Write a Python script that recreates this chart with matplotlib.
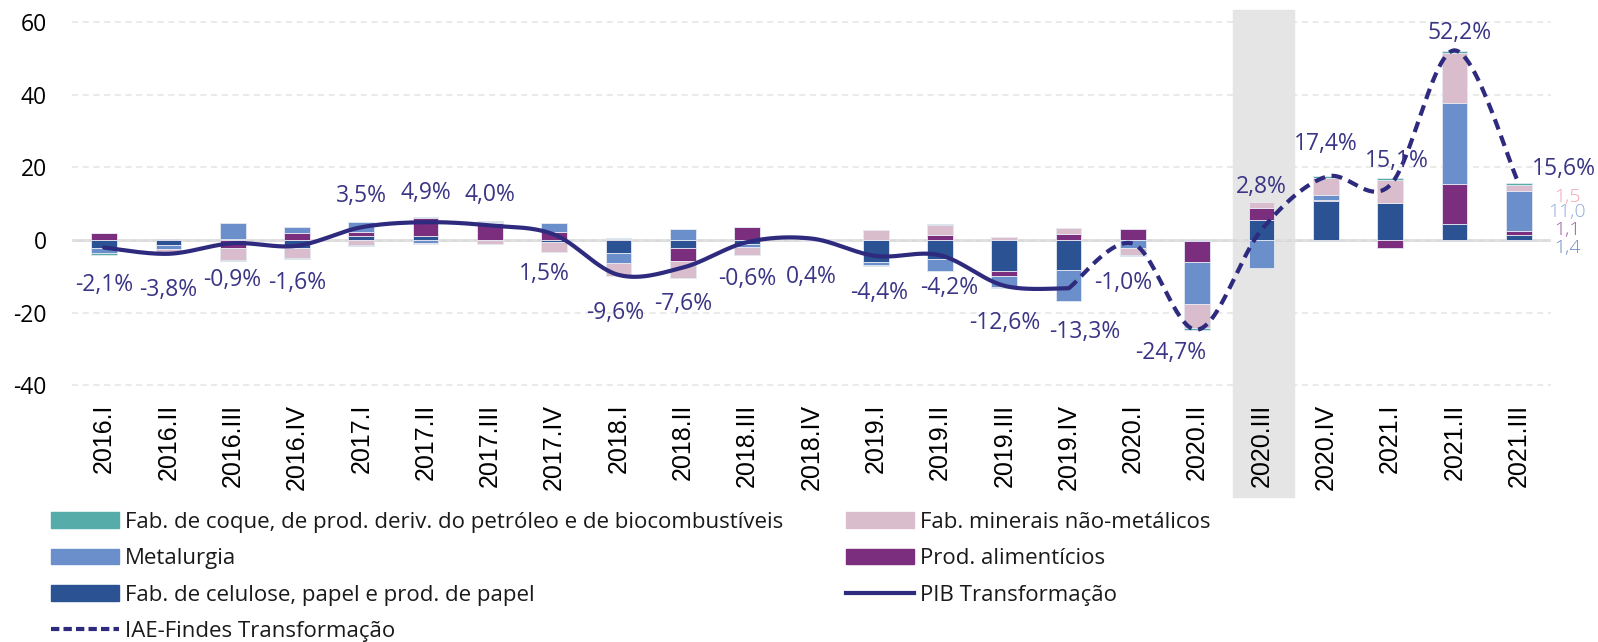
import matplotlib
matplotlib.use("Agg")
import matplotlib.pyplot as plt
import numpy as np
from matplotlib.patches import Patch, Rectangle
from matplotlib.lines import Line2D
from matplotlib.transforms import blended_transform_factory

plt.rcParams["axes.unicode_minus"] = False

CATS = ["2016.I", "2016.II", "2016.III", "2016.IV",
        "2017.I", "2017.II", "2017.III", "2017.IV",
        "2018.I", "2018.II", "2018.III", "2018.IV",
        "2019.I", "2019.II", "2019.III", "2019.IV",
        "2020.I", "2020.II", "2020.III", "2020.IV",
        "2021.I", "2021.II", "2021.III"]

# contributions (p.p.) by sector, stacked in this order
CELULOSE = [-2.2, -1.4, 0.4, -2.2, 1.1, 1.1, 0.0, -0.5, -3.5, -2.2, -1.0, 0.0,
            -6.0, -5.2, -8.6, -8.3, 0.0, -0.3, 5.5, 10.7, 10.3, 4.3, 1.4]
ALIMENTICIOS = [1.8, 0.4, -2.2, 1.8, 1.2, 4.9, 4.8, 2.3, 0.4, -3.5, 3.7, 0.0,
                0.0, 1.5, -1.4, 1.7, 3.1, -5.8, 3.2, 0.4, -2.3, 11.1, 1.1]
METALURGIA = [-1.4, -1.0, 4.3, 1.8, 2.6, -0.8, 0.2, 2.5, -2.8, 2.9, -0.9, 0.6,
              -0.9, -3.2, -2.9, -8.6, -2.1, -11.6, -7.8, 1.4, 0.0, 22.4, 11.0]
MINERAIS = [0.0, -0.8, -3.3, -2.8, -1.4, -0.4, -1.1, -2.8, -3.7, -4.9, -2.2, -0.4,
            2.7, 2.6, 0.8, 1.5, -2.0, -6.5, 1.75, 4.5, 6.3, 13.7, 1.5]
COQUE = [-0.4, -0.2, -0.2, -0.3, -0.2, 0.2, 0.1, 0.0, 0.1, 0.0, 0.0, 0.0,
         -0.2, 0.2, -0.4, 0.0, -0.4, -0.5, 0.0, 0.5, 0.5, 0.6, 0.6]

# growth rates (%)
PIB = [-2.1, -3.8, -0.9, -1.6, 3.5, 4.9, 4.0, 1.5, -9.6, -7.6, -0.6, 0.4,
       -4.4, -4.2, -12.6, -13.3]                       # 2016.I .. 2019.IV
IAE = [-13.3, -1.0, -24.7, 2.8, 17.4, 15.1, 52.2, 15.6]  # 2019.IV .. 2021.III
IAE_START = 15

SERIES = [
    ("Fab. de celulose, papel e prod. de papel", CELULOSE, "#2B5292"),
    ("Prod. alimentícios", ALIMENTICIOS, "#7B2D7E"),
    ("Metalurgia", METALURGIA, "#6A8FCA"),
    ("Fab. minerais não-metálicos", MINERAIS, "#D9BDCC"),
    ("Fab. de coque, de prod. deriv. do petróleo e de biocombustíveis", COQUE, "#56ACA9"),
]

LINE_COL = "#2E2A7E"
LABEL_COL = "#3A3585"
SANS = ["Open Sans", "DejaVu Sans"]

# label offsets (dx in categories, dy in data units) for each growth label
LBL_OFF = [(0, -10.3), (0, -10.0), (0, -10.2), (0, -10.3), (0, 8.7), (0, 8.1),
           (0, 8.4), (-0.15, -10.9), (-0.05, -10.6), (0, -10.1), (0, -10.2),
           (0, -10.6), (0.05, -10.2), (0.15, -9.1), (0, -10.3), (0.25, -11.9),
           (-0.15, -10.8), (-0.42, -6.5), (0, 11.9), (0, 8.9), (0.1, 6.7),
           (0.08, 4.7), (0.7, 4.0)]


def smooth(xs, ys, n=30):
    """Excel-like smoothed line (Catmull-Rom through the points)."""
    p = np.column_stack([xs, ys]).astype(float)
    out = []
    for i in range(len(p) - 1):
        p0 = p[max(i - 1, 0)]; p1 = p[i]; p2 = p[i + 1]; p3 = p[min(i + 2, len(p) - 1)]
        c1 = p1 + (p2 - p0) / 6
        c2 = p2 - (p3 - p1) / 6
        t = np.linspace(0, 1, n)[:, None]
        seg = (1 - t)**3 * p1 + 3 * (1 - t)**2 * t * c1 + 3 * (1 - t) * t**2 * c2 + t**3 * p2
        out.append(seg if i == 0 else seg[1:])
    return np.vstack(out)


def fmt(v):
    return f"{v:.1f}".replace(".", ",")


fig = plt.figure(figsize=(15.98, 6.42), dpi=100)
ax = fig.add_axes([0.045, 0.397, 0.9255, 0.5874])
x = np.arange(len(CATS))
ax.set_xlim(-0.5, len(CATS) - 0.5)
ax.set_ylim(-40.5, 63.3)

# highlighted quarter
tr = blended_transform_factory(ax.transData, fig.transFigure)
ax.add_patch(Rectangle((17.55, 1 - 497 / 642), 0.95, (497 - 10) / 642,
                       transform=tr, color="#E5E5E5", clip_on=False, zorder=0))

ax.set_yticks([60, 40, 20, 0, -20, -40])
ax.grid(axis="y", color="#E4E4E4", lw=1.1, ls=(0, (4, 3)), zorder=0.5)
ax.axhline(0, color="#D9D9D9", lw=2, zorder=1)
for s in ax.spines.values():
    s.set_visible(False)
ax.tick_params(length=0)
ax.tick_params(axis="y", pad=18, labelsize=16.5)
for t in ax.get_yticklabels():
    t.set_family(SANS)
ax.set_xticks(x)
ax.set_xticklabels(CATS, rotation=90, family="Liberation Sans", fontsize=18)
ax.tick_params(axis="x", pad=12)

pos_b = np.zeros(len(CATS))
neg_b = np.zeros(len(CATS))
for name, vals, col in SERIES:
    v = np.asarray(vals, dtype=float)
    bottom = np.where(v >= 0, pos_b, neg_b)
    ax.bar(x, v, 0.4, bottom=bottom, color=col, edgecolor="#E6E8F2",
           linewidth=0.6, zorder=2)
    pos_b += np.where(v >= 0, v, 0)
    neg_b += np.where(v < 0, v, 0)

xs_p = x[:len(PIB)]
sp = smooth(xs_p, PIB)
ax.plot(sp[:, 0], sp[:, 1], color=LINE_COL, lw=3.0, solid_capstyle="round", zorder=4)
xs_i = x[IAE_START:IAE_START + len(IAE)]
si = smooth(xs_i, IAE)
ax.plot(si[:, 0], si[:, 1], color=LINE_COL, lw=3.0, ls=(0, (2.6, 1.6)), zorder=4)

growth = PIB + IAE[1:]
for i, v in enumerate(growth):
    dx, dy = LBL_OFF[i]
    ax.text(i + dx, v + dy, fmt(v) + "%", ha="center", va="center",
            fontsize=16.5, color=LABEL_COL, family=SANS, zorder=5)

# small value labels for the last quarter
last = len(CATS) - 1
side = [(MINERAIS[-1], 11.9, "#F2A5B6"), (METALURGIA[-1], 7.7, "#8FAADB"),
        (ALIMENTICIOS[-1], 2.8, "#9B5CA3"), (CELULOSE[-1], -2.2, "#6E8CC6")]
for val, ypos, col in side:
    ax.text(last + 0.75, ypos, fmt(val), ha="center", va="center",
            fontsize=14, color=col, family=SANS, fontweight="light")

# legend in two pinned columns
h_coque = Patch(color=SERIES[4][2])
h_met = Patch(color=SERIES[2][2])
h_cel = Patch(color=SERIES[0][2])
h_min = Patch(color=SERIES[3][2])
h_ali = Patch(color=SERIES[1][2])
h_pib = Line2D([], [], color=LINE_COL, lw=3.0)
h_iae = Line2D([], [], color=LINE_COL, lw=3.0, ls=(0, (2.0, 1.0)))
kw = dict(frameon=False, handlelength=3.06, handleheight=0.72,
          handletextpad=0.27, labelspacing=0.69, borderpad=0, borderaxespad=0,
          prop={"family": SANS, "size": 16}, loc="upper left")
leg1 = fig.legend([h_coque, h_met, h_cel, h_iae],
                  [SERIES[4][0], SERIES[2][0], SERIES[0][0], "IAE-Findes Transformação"],
                  bbox_to_anchor=(51 / 1598, 1 - 512 / 642), **kw)
leg2 = fig.legend([h_min, h_ali, h_pib],
                  [SERIES[3][0], SERIES[1][0], "PIB Transformação"],
                  bbox_to_anchor=(846 / 1598, 1 - 512 / 642), **kw)
for lg in (leg1, leg2):
    for t in lg.get_texts():
        t.set_color("#1A1A1A")

fig.savefig("out.png", dpi=100)
